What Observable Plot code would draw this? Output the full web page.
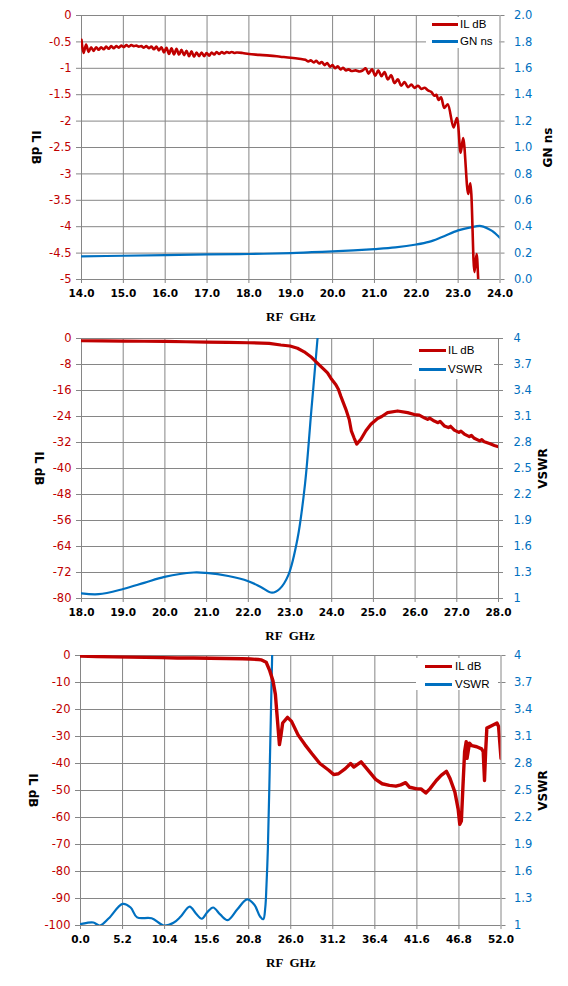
<!DOCTYPE html>
<html><head><meta charset="utf-8">
<script src="https://cdn.jsdelivr.net/npm/d3@7"></script>
<script src="https://cdn.jsdelivr.net/npm/@observablehq/plot@0.6"></script>
<style>
body{margin:0;background:#fff;}
#wrap{position:relative;width:568px;height:986px;overflow:hidden;}
.chart{position:absolute;left:0;}
.legend{position:absolute;background:#fff;font-family:"Liberation Sans",sans-serif;font-size:11.5px;color:#000;}
.row{position:absolute;white-space:nowrap;}
.sw{position:absolute;height:3px;}
</style></head><body><div id="wrap"></div>
<script>
// ---------- Chart 1 data ----------
const x1Ticks = [14,15,16,17,18,19,20,21,22,23,24];
const y1Ticks = [0,-0.5,-1,-1.5,-2,-2.5,-3,-3.5,-4,-4.5,-5];
const il1X = [14.00,14.05,14.11,14.17,14.23,14.29,14.35,14.41,14.47,14.53,14.59,14.65,14.71,14.77,14.83,14.89,14.95,15.01,15.07,15.13,15.19,15.25,15.31,15.37,15.43,15.49,15.55,15.61,15.67,15.73,15.79,15.85,15.91,15.97,16.03,16.09,16.15,16.21,16.27,16.33,16.39,16.45,16.51,16.57,16.63,16.69,16.75,16.81,16.87,16.93,16.99,17.05,17.11,17.17,17.23,17.29,17.35,17.41,17.47,17.53,17.59,17.65,17.71,17.85,18.0,18.25,18.5,18.75,19.0,19.2,19.35,19.42,19.48,19.55,19.61,19.68,19.74,19.81,19.87,19.94,20.00,20.06,20.12,20.19,20.25,20.32,20.38,20.45,20.55,20.65,20.72,20.79,20.86,20.94,21.02,21.09,21.17,21.24,21.32,21.40,21.48,21.56,21.64,21.72,21.80,21.88,21.96,22.04,22.12,22.20,22.28,22.36,22.43,22.48,22.53,22.59,22.67,22.75,22.89,22.97,23.06,23.12,23.24,23.29,23.39,23.44,23.48,23.52];
const il1Y = [-0.46,-0.71,-0.55,-0.69,-0.60,-0.67,-0.60,-0.65,-0.60,-0.64,-0.59,-0.63,-0.58,-0.62,-0.58,-0.61,-0.57,-0.60,-0.56,-0.59,-0.56,-0.58,-0.57,-0.59,-0.58,-0.61,-0.58,-0.62,-0.59,-0.64,-0.59,-0.66,-0.60,-0.70,-0.61,-0.73,-0.62,-0.74,-0.63,-0.74,-0.65,-0.75,-0.67,-0.77,-0.68,-0.78,-0.70,-0.77,-0.70,-0.77,-0.71,-0.76,-0.70,-0.74,-0.69,-0.73,-0.69,-0.72,-0.69,-0.71,-0.69,-0.71,-0.70,-0.71,-0.73,-0.745,-0.76,-0.78,-0.80,-0.82,-0.84,-0.87,-0.85,-0.89,-0.86,-0.91,-0.88,-0.94,-0.90,-0.97,-0.94,-1.00,-0.96,-1.02,-0.99,-1.04,-1.02,-1.05,-1.04,-1.06,-1.04,-1.00,-1.10,-1.02,-1.14,-1.04,-1.15,-1.07,-1.21,-1.13,-1.28,-1.21,-1.33,-1.26,-1.36,-1.31,-1.37,-1.33,-1.39,-1.37,-1.42,-1.45,-1.52,-1.50,-1.60,-1.55,-1.75,-1.68,-2.12,-1.94,-2.60,-2.32,-3.38,-3.18,-4.86,-4.52,-5.0,-5.6];
const gn1X = [14.0,15.0,16.0,17.0,18.0,19.0,19.5,20.0,20.5,21.0,21.5,22.0,22.3,22.6,23.0,23.3,23.55,23.8,24.0];
const gn1Y = [0.175,0.18,0.185,0.19,0.193,0.2,0.207,0.213,0.22,0.23,0.243,0.265,0.285,0.32,0.372,0.395,0.405,0.37,0.315];
const r1Ticks = [0,0.2,0.4,0.6,0.8,1.0,1.2,1.4,1.6,1.8,2.0];

// ---------- Chart 2 data ----------
const x2Ticks = [18,19,20,21,22,23,24,25,26,27,28];
const y2Ticks = [0,-8,-16,-24,-32,-40,-48,-56,-64,-72,-80];
const il2X = [18.0,18.5,19.0,19.5,20.0,20.5,21.0,21.5,22.0,22.5,22.78,23.0,23.18,23.34,23.5,23.62,23.7,23.82,23.9,23.98,24.1,24.16,24.22,24.34,24.42,24.47,24.54,24.6,24.7,24.82,24.94,25.1,25.2,25.34,25.58,25.82,25.98,26.1,26.22,26.3,26.35,26.46,26.55,26.6,26.7,26.8,26.85,26.94,27.05,27.1,27.18,27.3,27.35,27.42,27.55,27.6,27.66,27.8,27.9,28.0];
const il2Y = [-0.7,-0.75,-0.8,-0.85,-0.9,-1.0,-1.1,-1.2,-1.3,-1.5,-2.0,-2.3,-3.0,-4.1,-5.6,-7.1,-8.1,-9.6,-10.6,-12.2,-14.2,-15.6,-17.8,-21.8,-24.9,-28.4,-30.7,-32.5,-31.0,-28.4,-26.4,-24.6,-24.0,-22.8,-22.3,-22.8,-23.4,-23.6,-24.4,-24.9,-24.5,-25.4,-25.9,-25.5,-26.9,-27.4,-27.0,-28.2,-28.9,-28.5,-29.4,-30.2,-29.8,-30.7,-31.5,-31.1,-31.8,-32.4,-32.9,-33.3];
const vs2X = [18.0,18.41,19.0,19.5,19.99,20.69,20.99,21.52,22.0,22.31,22.57,22.75,22.96,23.18,23.36,23.51,23.66,23.75];
const vs2Y = [1.06,1.05,1.11,1.18,1.25,1.30,1.295,1.26,1.2,1.13,1.067,1.11,1.27,1.69,2.32,3.16,4.0,4.6];
const r2Ticks = [1,1.3,1.6,1.9,2.2,2.5,2.8,3.1,3.4,3.7,4];

// ---------- Chart 3 data ----------
const x3Ticks = [0,5.2,10.4,15.6,20.8,26.0,31.2,36.4,41.6,46.8,52.0];
const y3Ticks = [0,-10,-20,-30,-40,-50,-60,-70,-80,-90,-100];
const il3X = [0,2,4,6,8,10,12,14,16,18,20,21,22,22.33,22.96,23.4,23.8,24.1,24.3,24.6,24.8,25.0,25.6,26.1,26.9,27.75,28.6,29.6,30.7,31.3,31.9,32.75,33.4,33.8,34.7,35.45,36.5,37.3,38.2,39.0,39.6,40.2,40.7,41.6,42.1,42.7,43.2,44.0,44.6,45.25,45.7,46.3,46.7,46.9,47.1,47.3,47.5,47.7,47.8,48.1,48.4,49.0,49.6,49.8,49.96,50.1,50.25,50.9,51.5,51.7,52.0];
const il3Y = [-0.2,-0.4,-0.5,-0.6,-0.7,-0.8,-0.9,-0.9,-1.0,-1.1,-1.2,-1.3,-1.5,-1.6,-2.5,-5.6,-9.4,-14.4,-21.9,-33,-29.4,-25,-22.9,-24.4,-29.4,-33,-36.3,-40,-42.5,-44.1,-43.8,-41.9,-40,-41.3,-39.4,-42.1,-45.9,-47.5,-48.1,-48.4,-47.9,-47.1,-48.8,-49.4,-49.4,-50.9,-49.4,-46.3,-44.4,-42.9,-45.6,-50.6,-56.9,-62.5,-61.3,-48.1,-35.6,-31.9,-38.1,-32.5,-33.4,-33.8,-34.6,-35.6,-46.3,-35.6,-26.9,-25.9,-25,-26.3,-38.1];
const vs3X = [0,0.8,1.6,2.4,3.5,5.2,6.2,7.0,8.8,10.3,11.5,12.4,13.5,14.3,15.0,15.7,16.4,17.3,18.2,19.4,20.6,21.5,22.2,22.6,22.85,23.0,23.17,23.45,23.7,23.85];
const vs3Y = [1.015,1.03,1.033,1.0,1.08,1.24,1.2,1.09,1.08,1.0,1.03,1.1,1.21,1.13,1.075,1.15,1.2,1.12,1.06,1.18,1.29,1.23,1.1,1.07,1.2,1.45,1.85,2.95,4.0,4.6];
const r3Ticks = r2Ticks;

const RED = "#C00000", BLUE = "#0070C0", GRID = "#868686";

function makeChart(cfg) {
  const [lo, hi] = cfg.yDomain; const [rlo, rhi] = cfg.rDomain;
  const toLeft = r => lo + (r - rlo) * (hi - lo) / (rhi - rlo);
  const red = cfg.ilX.map((x, i) => ({x, y: cfg.ilY[i]}));
  const blue = cfg.bX.map((x, i) => ({x, y: toLeft(cfg.bY[i])}));
  const rightPos = cfg.rTicks.map(toLeft);
  const rightLabel = new Map(rightPos.map((p, i) => [p, cfg.rFmt(cfg.rTicks[i])]));
  return Plot.plot({
    width: 568, height: cfg.height,
    marginLeft: cfg.ml, marginRight: cfg.mr, marginTop: cfg.mt, marginBottom: cfg.mb,
    style: {fontFamily: "DejaVu Sans, sans-serif", background: "#fff", overflow: "visible"},
    x: {domain: cfg.xDomain},
    y: {domain: cfg.yDomain},
    marks: [
      Plot.gridX(cfg.xTicks, {stroke: GRID, strokeOpacity: 1, strokeWidth: 1}),
      Plot.gridY(cfg.yTicks, {stroke: GRID, strokeOpacity: 1, strokeWidth: 1}),
      Plot.axisX(cfg.xTicks, {anchor: "bottom", tickSize: 4, tickPadding: 6, stroke: GRID, fill: "#000",
        fontWeight: "bold", fontSize: 10.5, tickFormat: d => d.toFixed(1), label: null}),
      Plot.axisY(cfg.yTicks, {anchor: "left", tickSize: 5, tickPadding: 5, stroke: GRID, fill: RED,
        fontSize: 11.5, tickFormat: d => String(d), label: null}),
      Plot.axisY(rightPos, {anchor: "right", tickSize: 4, tickPadding: cfg.rpad, stroke: GRID, fill: BLUE,
        fontSize: 11.5, textAnchor: "start", tickFormat: p => rightLabel.get(p), label: null}),
      Plot.line(blue, {x: "x", y: "y", stroke: BLUE, strokeWidth: 2.2, curve: "catmull-rom", clip: true}),
      Plot.line(red, {x: "x", y: "y", stroke: RED, strokeWidth: cfg.redW, curve: cfg.redCurve, clip: true, strokeLinejoin: "round"}),
      Plot.text(["IL dB"], {text: d => d, frameAnchor: "left", dx: cfg.ltDx, rotate: 90, textAnchor: "middle", lineAnchor: "middle",
        fontWeight: "bold", fontSize: 12, fill: "#000"}),
      Plot.text([cfg.rTitle], {text: d => d, frameAnchor: "right", dx: cfg.rtDx, rotate: -90, textAnchor: "middle", lineAnchor: "middle",
        fontWeight: "bold", fontSize: 12, fill: "#000"}),
      Plot.text(["RF  GHz"], {text: d => d, frameAnchor: "bottom", dy: 37, textAnchor: "middle", lineAnchor: "middle",
        fontFamily: "Liberation Serif, serif", fontWeight: "bold", fontSize: 13, fill: "#000"})
    ]
  });
}

const charts = [
  {top: 0, height: 325, ml: 81, mr: 68.5, mt: 15, mb: 46, xDomain: [14, 24], yDomain: [-5, 0], rDomain: [0, 2],
   xTicks: x1Ticks, yTicks: y1Ticks, rTicks: r1Ticks, rFmt: r => r.toFixed(1), ilX: il1X, ilY: il1Y, bX: gn1X, bY: gn1Y,
   redW: 2.6, redCurve: "catmull-rom", rTitle: "GN ns", ltDx: -46, rtDx: 48.5, rpad: 10,
   legend: {left: 426, top: 17, w: 73, h: 31, sw0: 432, sw1: 458, tx: 460, y1: 24, y2: 41, names: ["IL dB", "GN ns"]}},
  {top: 325, height: 320, ml: 81, mr: 70, mt: 13, mb: 47, xDomain: [18, 28], yDomain: [-80, 0], rDomain: [1, 4],
   xTicks: x2Ticks, yTicks: y2Ticks, rTicks: r2Ticks, rFmt: r => String(+r.toFixed(1)), ilX: il2X, ilY: il2Y, bX: vs2X, bY: vs2Y,
   redW: 3.2, redCurve: "linear", rTitle: "VSWR", ltDx: -43, rtDx: 45, rpad: 11,
   legend: {left: 412, top: 339, w: 82, h: 40, sw0: 419, sw1: 446, tx: 448, y1: 350, y2: 369, names: ["IL dB", "VSWR"]}},
  {top: 645, height: 341, ml: 80, mr: 67.5, mt: 10, mb: 61, xDomain: [0, 52], yDomain: [-100, 0], rDomain: [1, 4],
   xTicks: x3Ticks, yTicks: y3Ticks, rTicks: r3Ticks, rFmt: r => String(+r.toFixed(1)), ilX: il3X, ilY: il3Y, bX: vs3X, bY: vs3Y,
   redW: 3.4, redCurve: "linear", rTitle: "VSWR", ltDx: -48, rtDx: 42.5, rpad: 9,
   legend: {left: 416, top: 658, w: 82, h: 32, sw0: 424.5, sw1: 452, tx: 455, y1: 666, y2: 684, names: ["IL dB", "VSWR"]}}
];

const wrap = document.getElementById("wrap");
for (const c of charts) {
  const svg = makeChart(c);
  svg.classList.add("chart");
  svg.style.position = "absolute";
  svg.style.top = c.top + "px";
  svg.style.left = "0px";
  wrap.appendChild(svg);
  const L = c.legend;
  const box = document.createElement("div");
  box.className = "legend";
  box.style.left = L.left + "px"; box.style.top = L.top + "px";
  box.style.width = L.w + "px"; box.style.height = L.h + "px";
  [[L.y1, RED, L.names[0]], [L.y2, BLUE, L.names[1]]].forEach(([y, col, name]) => {
    const sw = document.createElement("div");
    sw.className = "sw";
    sw.style.background = col;
    sw.style.left = (L.sw0 - L.left) + "px";
    sw.style.width = (L.sw1 - L.sw0) + "px";
    sw.style.top = (y - L.top - 1.5) + "px";
    box.appendChild(sw);
    const t = document.createElement("div");
    t.className = "row";
    t.textContent = name;
    t.style.left = (L.tx - L.left) + "px";
    t.style.top = (y - L.top - 7) + "px";
    t.style.lineHeight = "14px";
    box.appendChild(t);
  });
  wrap.appendChild(box);
}
</script></body></html>
